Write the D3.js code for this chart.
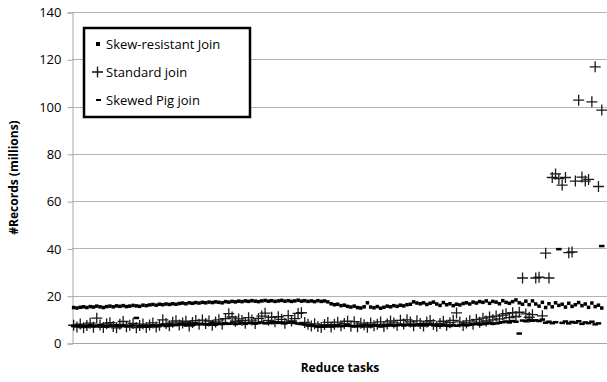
<!DOCTYPE html>
<html>
<head>
<meta charset="utf-8">
<script src="https://cdn.jsdelivr.net/npm/d3@7"></script>
<style>
  body { margin: 0; background: #fff; }
  text { font-family: "Open Sans", sans-serif; }
</style>
</head>
<body>
<svg id="chart" width="607" height="382"></svg>
<script>
// Records per reduce task (millions)

var yTicks = [0, 20, 40, 60, 80, 100, 120, 140];

var skewResistant = [
  15.0, 14.8, 15.1, 15.3, 15.0, 15.4, 15.2, 15.6, 15.3, 15.0,
  15.4, 15.6, 15.3, 15.7, 15.5, 15.8, 15.4, 15.6, 15.9, 15.7,
  15.5, 16.0, 15.8, 16.1, 16.3, 16.0, 16.4, 16.2, 16.5, 16.3,
  16.6, 16.4, 16.7, 16.9, 16.6, 17.0, 16.8, 17.1, 16.9, 17.2,
  17.0, 17.3, 17.1, 17.4, 17.2, 17.0, 17.5, 17.3, 17.6, 17.4,
  17.7, 17.5, 17.8, 17.6, 17.9, 17.7, 17.5, 17.8, 18.0, 17.7,
  17.9, 17.6, 17.8, 18.0, 17.7, 17.9, 17.6, 17.8, 18.1, 17.7,
  17.9, 17.6, 17.8, 17.5, 17.9, 17.6, 17.8, 17.4, 16.6, 16.2,
  16.4, 15.8, 16.0, 15.5, 15.2, 15.6, 15.0, 14.8, 15.3, 17.0,
  15.2, 14.9, 15.4, 14.7, 15.1, 15.6, 15.3, 15.8, 15.5, 16.0,
  15.7, 16.2, 16.4, 17.4, 16.9, 16.6, 17.0, 16.3, 16.8, 17.3,
  16.5, 15.9, 17.1, 16.2, 16.6, 15.8, 16.4, 16.1, 16.7, 17.0,
  16.5, 17.3, 16.9, 17.5, 17.2, 17.8, 16.8, 17.6, 17.3, 16.6,
  17.9, 17.2, 16.8, 17.5, 18.2, 17.0, 16.4, 17.7, 16.2, 17.8,
  16.5, 15.6, 17.2, 15.0, 16.6, 15.3, 17.0, 15.9, 16.4, 15.2,
  16.8, 15.5, 16.2, 17.1, 15.8, 16.5, 15.1, 16.9, 15.4, 16.0,
  14.8
];

var standardJoin = [
  7.5, 6.8, 8.0, 6.5, 7.4, 8.4, 6.7, 10.5, 7.6, 6.6,
  8.1, 8.6, 7.0, 6.4, 7.9, 9.1, 6.9, 7.5, 8.3, 6.5,
  7.4, 8.0, 6.6, 7.6, 8.5, 6.8, 7.5, 9.8, 8.2, 7.3,
  8.8, 9.4, 7.6, 8.5, 9.2, 7.2, 8.7, 9.5, 7.9, 9.7,
  8.2, 9.3, 7.5, 8.9, 9.8, 7.9, 10.3, 12.4, 11.0, 9.2,
  10.2, 9.5, 8.4, 10.7, 9.7, 8.2, 10.4, 11.4, 12.6, 9.6,
  10.9, 9.0, 11.1, 10.0, 8.4, 11.6, 9.3, 10.3, 12.5, 12.8,
  8.7, 7.9, 7.2, 8.1, 7.0, 6.6, 7.8, 8.7, 6.8, 7.9,
  8.8, 7.3, 8.2, 9.2, 7.1, 9.0, 6.9, 8.4, 7.7, 6.7,
  8.5, 7.3, 7.9, 8.9, 7.0, 8.0, 9.3, 8.5, 7.5, 9.6,
  8.0, 9.8, 8.9, 7.3, 9.4, 8.2, 7.2, 8.9, 9.5, 7.8,
  7.1, 8.3, 9.2, 7.5, 8.6, 9.6, 12.7, 8.9, 7.4, 8.5,
  9.4, 7.9, 9.9, 8.8, 10.5, 9.3, 11.0, 9.8, 11.4, 10.2,
  11.8, 12.4, 10.7, 12.8, 11.2, 13.0, 27.5, 12.3, 10.9, 12.0,
  27.5, 27.8, 11.5, 38.0, 27.5, 70.0, 71.5, 69.5, 66.8, 70.0,
  38.2, 38.5, 68.5, 102.7, 70.2, 68.5, 69.2, 102.0, 116.8, 66.2,
  98.5
];

var skewedPig = [
  7.3, 7.1, 7.4, 7.0, 7.2, 7.5, 7.1, 7.3, 7.6, 7.2,
  7.0, 7.4, 7.2, 7.5, 7.1, 7.3, 7.0, 7.2, 7.4, 10.6,
  7.1, 7.3, 7.0, 7.2, 7.5, 7.1, 7.4, 7.6, 7.2, 7.5,
  7.8, 7.6, 7.9, 8.1, 7.7, 8.0, 7.8, 8.2, 7.9, 8.1,
  7.8, 8.0, 8.3, 7.9, 8.2, 8.0, 8.4, 8.1, 8.3, 8.0,
  8.2, 8.5, 8.1, 8.4, 8.6, 8.2, 8.5, 8.7, 8.3, 8.6,
  8.4, 8.8, 8.5, 8.7, 8.3, 8.6, 8.9, 8.5, 8.2, 8.0,
  7.8, 7.6, 7.4, 7.2, 7.0, 6.9, 7.1, 7.3, 7.0, 7.2,
  7.4, 7.1, 7.3, 7.5, 7.2, 7.0, 7.3, 7.1, 7.4, 7.6,
  7.2, 7.5, 7.3, 7.0, 7.2, 7.4, 7.6, 7.3, 7.5, 7.7,
  7.4, 7.6, 7.8, 7.5, 7.7, 7.9, 7.6, 7.8, 8.0, 7.7,
  7.5, 7.3, 7.6, 7.4, 7.2, 7.5, 7.3, 7.6, 7.8, 7.5,
  7.7, 7.9, 8.1, 7.8, 8.0, 8.2, 8.4, 8.1, 8.3, 8.6,
  8.8, 9.1, 8.7, 9.3, 9.0, 4.0, 9.5, 9.2, 9.8, 9.4,
  9.6, 9.3, 9.9, 8.6, 9.0, 8.4, 8.8, 39.7, 8.5, 9.1,
  8.3, 8.9, 8.6, 9.2, 8.1, 8.7, 8.4, 9.0, 7.9, 8.3,
  41.0
];

var seriesNames = ["Skew-resistant Join", "Standard join", "Skewed Pig join"];

(function() {
  var svg = d3.select("#chart");
  // plot area edges (named to avoid clashing with window.top)
  var plotLeft = 72, plotTop = 12, plotRight = 612, plotBottom = 343;
  var nTasks = skewResistant.length;

  var x = d3.scaleLinear().domain([0, nTasks + 2.6]).range([plotLeft, plotRight]);
  var y = d3.scaleLinear().domain([0, 140]).range([plotBottom, plotTop]);

  // gridlines
  svg.append("g")
    .selectAll("line")
    .data(yTicks.filter(function(t) { return t > 0; }))
    .join("line")
      .attr("x1", plotLeft).attr("x2", plotRight)
      .attr("y1", function(d) { return Math.round(y(d)) + 0.5; })
      .attr("y2", function(d) { return Math.round(y(d)) + 0.5; })
      .attr("stroke", "#b3b3b3")
      .attr("stroke-width", 1);

  // y axis
  var yAxis = svg.append("g")
    .attr("transform", "translate(" + (plotLeft + 0.5) + ",0.5)")
    .call(d3.axisLeft(y).tickValues(yTicks).tickSize(5).tickPadding(6));
  yAxis.select(".domain").attr("stroke", "#a6a6a6");
  yAxis.selectAll(".tick line").attr("stroke", "#a6a6a6");
  yAxis.selectAll(".tick text")
    .attr("font-family", "'Open Sans', sans-serif")
    .attr("font-size", 13)
    .attr("fill", "#000");

  // x axis line
  svg.append("line")
    .attr("x1", plotLeft).attr("x2", plotRight)
    .attr("y1", Math.round(y(0)) + 0.5).attr("y2", Math.round(y(0)) + 0.5)
    .attr("stroke", "#a6a6a6");

  // markers: squares, then pluses, then dashes on top
  svg.append("g").attr("class", "skew-resistant")
    .selectAll("rect")
    .data(skewResistant)
    .join("rect")
      .attr("x", function(d, i) { return x(i + 0.5) - 1.75; })
      .attr("y", function(d) { return y(d) - 1.75; })
      .attr("width", 3.5).attr("height", 3.5)
      .attr("fill", "#000");

  svg.append("g").attr("class", "standard")
    .selectAll("path")
    .data(standardJoin)
    .join("path")
      .attr("d", function(d, i) {
        var cx = x(i + 0.5), cy = y(d), r = 5.5;
        return "M" + (cx - r) + "," + cy + "H" + (cx + r) +
               "M" + cx + "," + (cy - r) + "V" + (cy + r);
      })
      .attr("stroke", "#1a1a1a")
      .attr("stroke-width", 1.3)
      .attr("fill", "none");

  svg.append("g").attr("class", "pig")
    .selectAll("rect")
    .data(skewedPig)
    .join("rect")
      .attr("x", function(d, i) { return x(i + 0.5) - 2.75; })
      .attr("y", function(d) { return y(d) - 1.25; })
      .attr("width", 5.5).attr("height", 2.5)
      .attr("fill", "#000");

  // axis titles
  svg.append("text")
    .attr("x", (plotLeft + plotRight) / 2 - 2)
    .attr("y", 372)
    .attr("text-anchor", "middle")
    .attr("font-size", 12)
    .attr("font-weight", "bold")
    .text("Reduce tasks");

  svg.append("text")
    .attr("transform", "translate(18," + ((plotTop + plotBottom) / 2) + ") rotate(-90)")
    .attr("text-anchor", "middle")
    .attr("font-size", 12)
    .attr("font-weight", "bold")
    .text("#Records  (millions)");

  // legend
  var legend = svg.append("g").attr("transform", "translate(84,28)");
  legend.append("rect")
    .attr("width", 166).attr("height", 89)
    .attr("fill", "#fff")
    .attr("stroke", "#000")
    .attr("stroke-width", 2.5);

  var rows = legend.selectAll("g.row")
    .data(seriesNames)
    .join("g")
      .attr("class", "row")
      .attr("transform", function(d, i) { return "translate(0," + (16 + i * 28) + ")"; });

  rows.append("text")
    .attr("x", 22)
    .attr("dy", "0.35em")
    .attr("font-size", 13)
    .text(function(d) { return d; });

  rows.filter(function(d, i) { return i == 0; })
    .append("rect")
      .attr("x", 12).attr("y", -2).attr("width", 4).attr("height", 4)
      .attr("fill", "#000");
  rows.filter(function(d, i) { return i == 1; })
    .append("path")
      .attr("d", "M8,0H19M13.5,-5.5V5.5")
      .attr("stroke", "#111").attr("stroke-width", 1.3);
  rows.filter(function(d, i) { return i == 2; })
    .append("rect")
      .attr("x", 12).attr("y", -1).attr("width", 5).attr("height", 2)
      .attr("fill", "#000");
})();
</script>
</body>
</html>
